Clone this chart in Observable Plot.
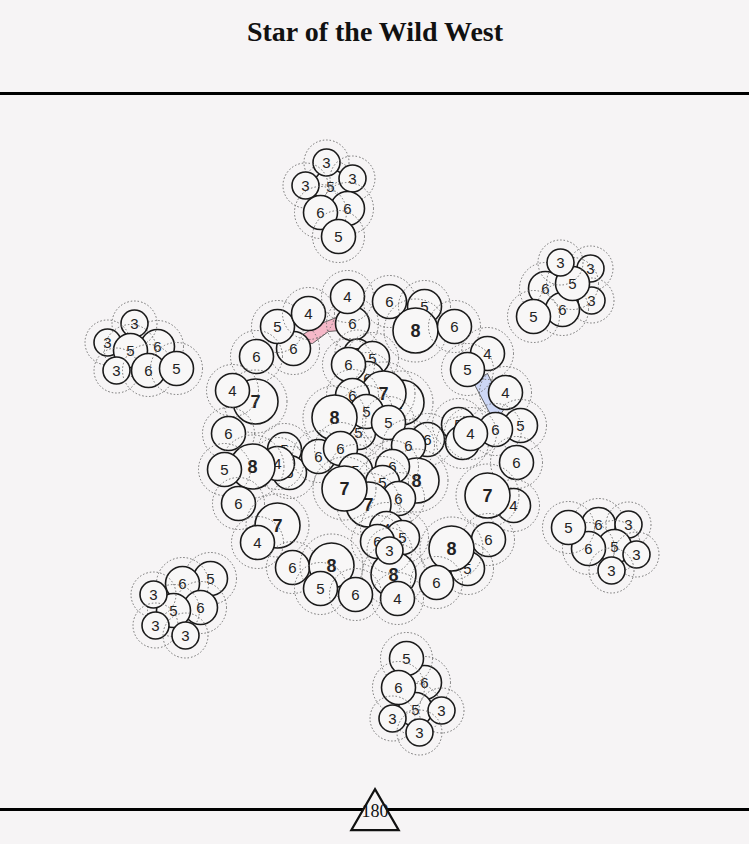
<!DOCTYPE html>
<html><head><meta charset="utf-8">
<script src="https://cdn.jsdelivr.net/npm/d3@7"></script>
<script src="https://cdn.jsdelivr.net/npm/@observablehq/plot@0.6"></script>
<style>
html,body{margin:0;padding:0;background:#f6f4f5;}
#chart svg{display:block;}
</style></head><body><div id="chart"></div>
<script>
const title = "Star of the Wild West";
const totalLabel = "180";

// [x, y, value] in map units, listed back to front
const north = [[330,186,5],[326,162,3],[352,178,3],[305,185,3],[347,208,6],[320,212,6],[338,236,5]];
const northeast = [[590,268,3],[591,300,3],[545,288,6],[562,309,6],[572,283,5],[560,262,3],[533,316,5]];
const west = [[157,346,6],[134,323,3],[107,342,3],[130,350,5],[116,370,3],[148,370,6],[176,368,5]];
const east = [[598,524,6],[628,524,3],[614,546,5],[636,554,3],[588,548,6],[568,527,5],[611,570,3]];
const southwest = [[210,578,5],[182,583,6],[200,607,6],[173,610,5],[153,594,3],[155,625,3],[185,635,3]];
const south = [[424,682,6],[406,658,5],[415,709,5],[398,687,6],[441,710,3],[392,718,3],[419,732,3]];
const core = [
  [293,348,6],[277,326,5],[352,323,6],[308,313,4],[347,296,4],[389,301,6],[424,306,5],[415,330,8],[454,326,6],[256,356,6],
  [357,352,3],[372,358,5],[367,378,6],[348,364,6],[401,402,7],[383,393,7],[352,395,6],[358,432,5],[366,411,5],[388,422,5],[334,417,8],
  [255,401,7],[232,390,4],[228,433,6],[284,449,5],[289,472,6],[277,463,4],[252,466,8],[224,469,5],[318,456,6],[340,448,6],
  [427,439,6],[408,445,6],[355,470,5],[416,480,8],[392,466,6],[382,482,5],[398,498,6],[368,504,7],[344,488,7],
  [238,503,6],[277,525,7],[257,542,4],
  [386,528,4],[402,537,5],[377,541,6],[393,574,8],[389,550,3],[397,598,4],[292,567,6],[331,565,8],[320,588,5],[355,594,6],
  [487,353,4],[467,369,5],[505,392,4],[458,424,5],[462,442,6],[520,425,5],[495,429,6],[470,433,4],[516,462,6],
  [513,505,4],[487,495,7],[488,539,6],[467,568,5],[451,548,8],[436,582,6]
];
const pinkBand = [[298,337],[318,324],[336,317],[341,318],[339,330],[328,331],[312,343],[300,342],[298,337]];
const blueBand = [[473,381],[487,373],[504,408],[496,420],[490,414],[475,386],[473,381]];

const bg = "#f6f4f5";
const pieces = [...north, ...northeast, ...west, ...east, ...southwest, ...south, ...core]
  .map(([x, y, n]) => ({x, y, n}));
const radius = n => n <= 3 ? 13.5 : n <= 6 ? 17 : 22.5;

const marks = [
  Plot.frame({stroke: "#000", strokeWidth: 3}),
  Plot.text([title], {frameAnchor: "top", dy: -61, lineAnchor: "middle", fontFamily: "Liberation Serif", fontWeight: "bold", fontSize: 28, fill: "#111"}),
  Plot.line(pinkBand, {x: d => d[0], y: d => d[1], fill: "#f5b8c8", stroke: "#444", strokeWidth: 0.8}),
  Plot.line(blueBand, {x: d => d[0], y: d => d[1], fill: "#cdd7f6", stroke: "#444", strokeWidth: 0.8})
];
for (const d of pieces) {
  const r = radius(d.n);
  marks.push(Plot.dot([d], {x: "x", y: "y", r: r + 9, stroke: "#6f6f6f", strokeWidth: 1, strokeDasharray: "1.5,2", fill: "none"}));
  marks.push(Plot.dot([d], {x: "x", y: "y", r, stroke: "#1a1a1a", strokeWidth: 1.6, fill: "#f8f7f7"}));
  marks.push(Plot.text([d], {x: "x", y: "y", text: "n", fontFamily: "Liberation Sans, Arial, sans-serif",
    fontSize: d.n >= 7 ? 18 : 15, fontWeight: d.n >= 7 ? "bold" : "normal", fill: "#222", dy: 1}));
}
marks.push(Plot.dot([totalLabel], {frameAnchor: "bottom", dy: 7, symbol: "triangle", r: 17.6, stroke: "#111", strokeWidth: 2.2, fill: bg}));
marks.push(Plot.text([totalLabel], {frameAnchor: "bottom", dy: 7, fontFamily: "Liberation Serif", fontSize: 18, fill: "#111"}));

const chart = Plot.plot({
  width: 749, height: 844,
  marginTop: 93, marginBottom: 35, marginLeft: -4, marginRight: -4,
  x: {domain: [0, 749], range: [0, 749], axis: null},
  y: {domain: [0, 844], range: [0, 844], axis: null},
  style: {background: bg, overflow: "hidden"},
  marks
});
document.getElementById("chart").append(chart);
</script></body></html>
